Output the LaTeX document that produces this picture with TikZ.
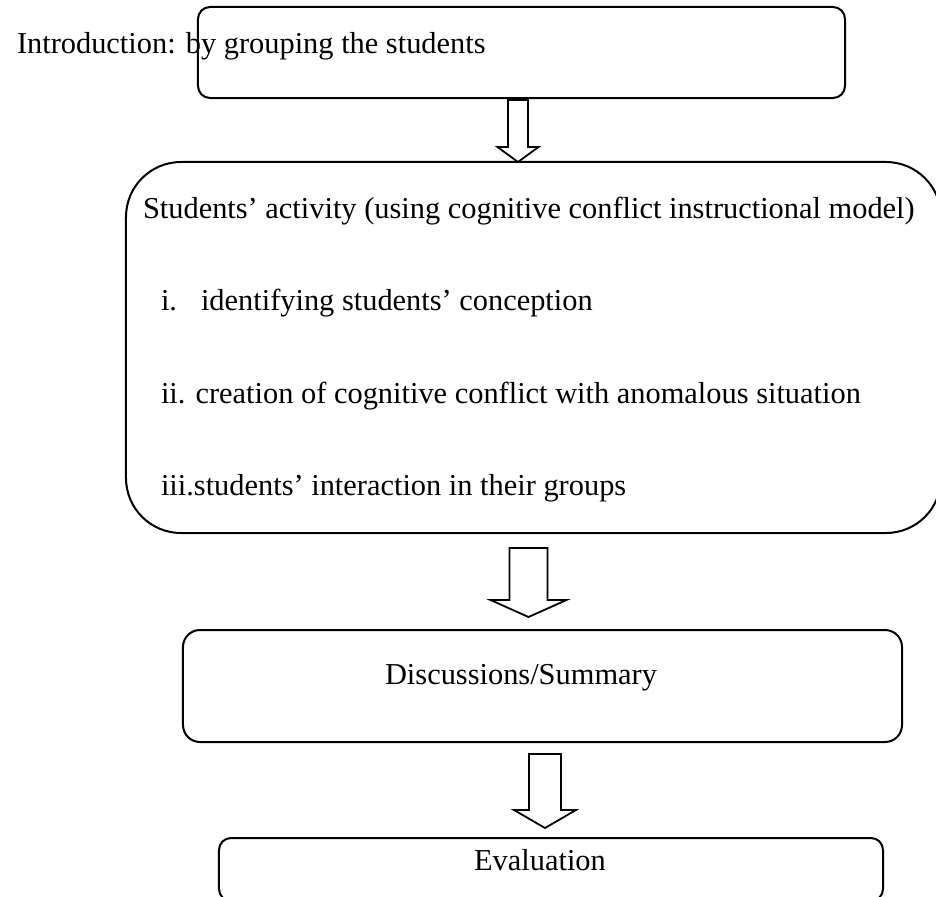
\documentclass[tikz,border=0pt]{standalone}
\usepackage{fontspec}
\setmainfont[Ligatures=CommonOff]{Liberation Serif}
\begin{document}
\begin{tikzpicture}[x=1bp,y=-1bp,
  every node/.style={inner sep=0pt, outer sep=0pt},
  box/.style={draw, line width=2bp, rounded corners=#1},
  txt/.style={font=\fontsize{30.4bp}{36bp}\selectfont, anchor=base west},
  ctxt/.style={font=\fontsize{30.4bp}{36bp}\selectfont, anchor=base},
  blockarrow/.style={draw, line width=1.8bp, fill=white, line join=miter}]
% hollow downward block arrow: centre x, shaft half width, head half width, top, head base, tip
\newcommand\BlockArrow[6]{%
  \draw[blockarrow] ({#1-#2},#4) -- ({#1+#2},#4) -- ({#1+#2},#5) -- ({#1+#3},#5)
    -- (#1,#6) -- ({#1-#3},#5) -- ({#1-#2},#5) -- cycle;}
\useasboundingbox (0,0) rectangle (936,897);
\begin{scope}
\clip (0,0) rectangle (936,897);

% boxes
\node[box=12bp, minimum width=647bp, minimum height=91bp] (intro) at (521.5,52.5) {};
\node[box=55bp, minimum width=815bp, minimum height=371bp] (activity) at (533.5,347.5) {};
\node[box=17bp, minimum width=719bp, minimum height=112bp] (discuss) at (542.5,686) {};
\node[box=12bp, minimum width=664bp, minimum height=63bp] (eval) at (551,869.5) {};

% texts
\node[txt] (introtxt) at (17,53) {Introduction: by grouping the students};
\node[txt] (acttitle) at (143,218) {Students’ activity (using cognitive conflict instructional model)};
\node[txt] (itemi) at (161,310) {i.};
\node[txt] (itemitxt) at (201,310) {identifying students’ conception};
\node[txt] (itemii) at (161,403) {ii. creation of cognitive conflict with anomalous situation};
\node[txt] (itemiii) at (161,495) {iii.students’ interaction in their groups};
\node[ctxt] (disctxt) at (521,684) {Discussions/Summary};
\node[ctxt] (evaltxt) at (540,870) {Evaluation};

% flow arrows
\BlockArrow{518}{10}{20.5}{100}{147}{162}
\BlockArrow{528.5}{19}{38}{548}{600}{617}
\BlockArrow{545}{16}{31}{754}{810}{828}
\end{scope}
\end{tikzpicture}
\end{document}
